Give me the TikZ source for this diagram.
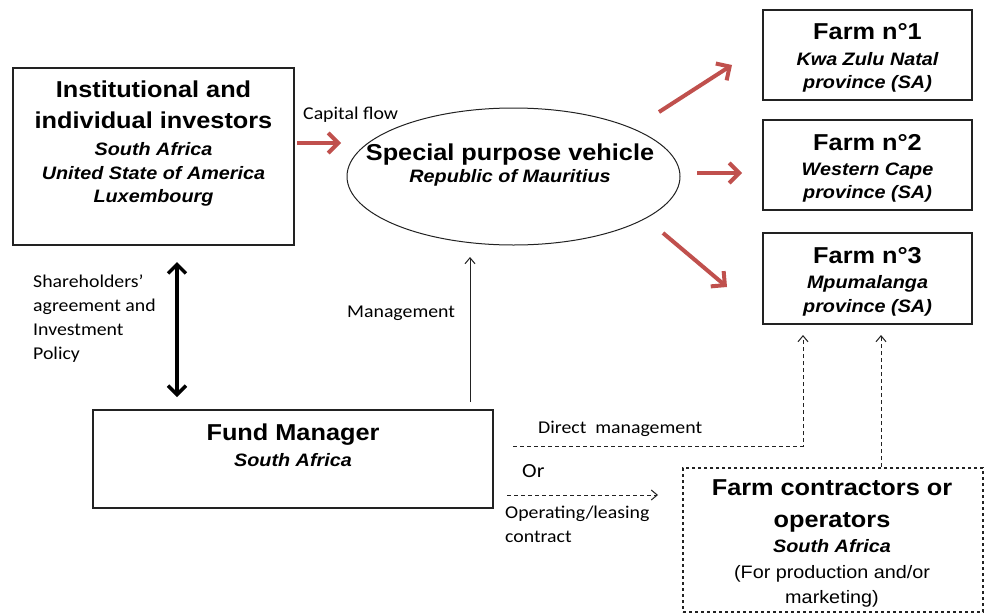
\documentclass[tikz,border=0pt]{standalone}
\usepackage{fontspec}
\setmainfont{Liberation Sans}
\newfontfamily\arialx[FakeStretch=1.1]{Liberation Sans}
\newfontfamily\calx[FakeStretch=1.1]{Carlito}
\usetikzlibrary{arrows.meta,shapes.geometric}
\definecolor{redarrow}{HTML}{C0504D}
\definecolor{linegray}{HTML}{222222}
\tikzset{
  box/.style={draw=linegray, line width=1.3pt, inner sep=0pt, fill=white},
  dbox/.style={draw=linegray, line width=1.1pt, dash pattern=on 3pt off 3pt, inner sep=0pt},
  title/.style={font=\arialx\bfseries\fontsize{23}{23}\selectfont, anchor=base, inner sep=0pt},
  sub/.style={font=\arialx\bfseries\itshape\fontsize{18}{18}\selectfont, anchor=base, inner sep=0pt},
  plain/.style={font=\arialx\fontsize{18}{18}\selectfont, anchor=base, inner sep=0pt},
  lbl/.style={font=\calx\fontsize{18}{18}\selectfont, anchor=base west, inner sep=0pt},
  redarr/.style={draw=redarrow, line width=4pt, -{Straight Barb[length=10pt,width=20pt]}},
  thinarr/.style={draw=linegray, line width=1pt, -{Straight Barb[length=6pt,width=10pt]}},
  dasharr/.style={draw=linegray, line width=1pt, dash pattern=on 4pt off 3pt, -{Straight Barb[length=6pt,width=10pt]}},
  bigdbl/.style={draw=black, line width=3.5pt, {Straight Barb[length=9pt,width=18pt]}-{Straight Barb[length=9pt,width=18pt]}}
}
\begin{document}
\begin{tikzpicture}[x=1pt,y=-1pt]
\useasboundingbox[fill=white] (0,0) rectangle (984,613);

% Investors
\node[box, minimum width=281pt, minimum height=177pt] (inv) at (153.5,156.5) {};
\node[title] (inv1) at (153.5,97) {Institutional and};
\node[title] (inv2) at (153.5,128) {individual investors};
\node[sub] (inv3) at (153.5,155) {South Africa};
\node[sub] (inv4) at (153.5,179) {United State of America};
\node[sub] (inv5) at (153.5,202) {Luxembourg};

% SPV
\node[ellipse, draw=linegray, line width=1pt, inner sep=0pt, minimum width=333pt, minimum height=137pt] (spv) at (513.5,176.5) {};
\node[title] (spv1) at (510,160) {Special purpose vehicle};
\node[sub] (spv2) at (510,182) {Republic of Mauritius};

% Farms
\node[box, minimum width=209pt, minimum height=90pt] (f1) at (867.5,55) {};
\node[title] (f1a) at (867.5,39) {Farm n°1};
\node[sub] (f1b) at (867.5,65) {Kwa Zulu Natal};
\node[sub] (f1c) at (867.5,88) {province (SA)};

\node[box, minimum width=209pt, minimum height=90pt] (f2) at (867.5,165) {};
\node[title] (f2a) at (867.5,150) {Farm n°2};
\node[sub] (f2b) at (867.5,175) {Western Cape};
\node[sub] (f2c) at (867.5,198) {province (SA)};

\node[box, minimum width=209pt, minimum height=91pt] (f3) at (867.5,278.5) {};
\node[title] (f3a) at (867.5,263) {Farm n°3};
\node[sub] (f3b) at (867.5,288) {Mpumalanga};
\node[sub] (f3c) at (867.5,312) {province (SA)};

% Fund manager
\node[box, minimum width=400pt, minimum height=98pt] (fm) at (293,459) {};
\node[title] (fm1) at (293,440) {Fund Manager};
\node[sub] (fm2) at (293,466) {South Africa};

% Contractors
\node[dbox, minimum width=300pt, minimum height=144pt] (fc) at (833,540) {};
\node[title] (fc1) at (832,495) {Farm contractors or};
\node[title] (fc2) at (832,527) {operators};
\node[sub] (fc3) at (832,552) {South Africa};
\node[plain] (fc4) at (832,578) {(For production and/or};
\node[plain] (fc5) at (832,603) {marketing)};

% Labels
\node[lbl] (lcap) at (303,119) {Capital flow};
\node[lbl] (lsh1) at (33,287) {Shareholders’};
\node[lbl] (lsh2) at (33,311) {agreement and};
\node[lbl] (lsh3) at (33,335) {Investment};
\node[lbl] (lsh4) at (33,359) {Policy};
\node[lbl] (lman) at (347,317) {Management};
\node[lbl] (ldir) at (538,433) {Direct\ \ management};
\node[lbl, font=\calx\fontsize{20}{20}\selectfont] (lor) at (522,477) {Or};
\node[lbl] (lop1) at (505,518) {Operating/leasing};
\node[lbl] (lop2) at (505,542) {contract};

% Arrow end coordinates
\coordinate (cap0) at (297,143);
\coordinate (cap1) at (341,143);
\coordinate (a1s) at (659,112);
\coordinate (a1e) at (732,65);
\coordinate (a2s) at (697,173);
\coordinate (a2e) at (742,173);
\coordinate (a3s) at (663,233);
\coordinate (a3e) at (727,287);
\coordinate (dbl0) at (177,262);
\coordinate (dbl1) at (177,397);
\coordinate (man0) at (470,402);
\coordinate (man1) at (470,257);
\coordinate (dm0) at (513,446);
\coordinate (dm1) at (803,446);
\coordinate (dm2) at (803,335);
\coordinate (op0) at (507,495);
\coordinate (op1) at (658,495);
\coordinate (fc0) at (881,467);
\coordinate (fcf) at (881,335);

% Connectors
\draw[redarr] (cap0) -- (cap1);
\draw[redarr] (a1s) -- (a1e);
\draw[redarr] (a2s) -- (a2e);
\draw[redarr] (a3s) -- (a3e);
\draw[bigdbl] (dbl0) -- (dbl1);
\draw[thinarr] (man0) -- (man1);
\draw[dasharr] (dm0) -- (dm1) -- (dm2);
\draw[dasharr] (op0) -- (op1);
\draw[dasharr] (fc0) -- (fcf);
\end{tikzpicture}
\end{document}
